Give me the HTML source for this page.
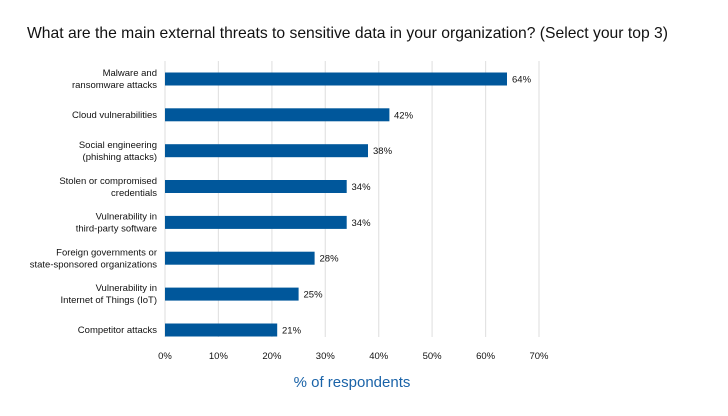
<!DOCTYPE html>
<html><head><style>
body{margin:0;background:#fff;font-family:"Liberation Sans",sans-serif;}
</style></head><body>
<svg width="728" height="411" xmlns="http://www.w3.org/2000/svg" font-family="Liberation Sans, sans-serif">
<rect width="728" height="411" fill="#fff"/>
<text x="27" y="38" font-size="15.8" fill="#111" textLength="641" lengthAdjust="spacingAndGlyphs">What are the main external threats to sensitive data in your organization? (Select your top 3)</text>
<g stroke="#e3e3e3" stroke-width="1.2">
<line x1="165" y1="61" x2="165" y2="337"/>
<line x1="218.4" y1="61" x2="218.4" y2="337"/>
<line x1="271.9" y1="61" x2="271.9" y2="337"/>
<line x1="325.3" y1="61" x2="325.3" y2="337"/>
<line x1="378.7" y1="61" x2="378.7" y2="337"/>
<line x1="432.1" y1="61" x2="432.1" y2="337"/>
<line x1="485.6" y1="61" x2="485.6" y2="337"/>
<line x1="539" y1="61" x2="539" y2="337"/>
</g>
<g fill="#00579b">
<rect x="165" y="72.5" width="342" height="13"/>
<rect x="165" y="108.3" width="224.4" height="13"/>
<rect x="165" y="144.2" width="203" height="13"/>
<rect x="165" y="180" width="181.7" height="13"/>
<rect x="165" y="215.9" width="181.7" height="13"/>
<rect x="165" y="251.7" width="149.6" height="13"/>
<rect x="165" y="287.6" width="133.6" height="13"/>
<rect x="165" y="323.5" width="112.2" height="13"/>
</g>
<g font-size="9.5" fill="#111">
<text x="512" y="82.5">64%</text>
<text x="394" y="118.3">42%</text>
<text x="373" y="154.2">38%</text>
<text x="351.5" y="190">34%</text>
<text x="351.5" y="225.9">34%</text>
<text x="319.5" y="261.7">28%</text>
<text x="303.5" y="297.6">25%</text>
<text x="282" y="333.5">21%</text>
</g>
<g font-size="9.5" fill="#111" text-anchor="end">
<text x="157" y="76">Malware and</text><text x="157" y="88">ransomware attacks</text>
<text x="157" y="118">Cloud vulnerabilities</text>
<text x="157" y="148">Social engineering</text><text x="157" y="160">(phishing attacks)</text>
<text x="157" y="184">Stolen or compromised</text><text x="157" y="196">credentials</text>
<text x="157" y="219.5">Vulnerability in</text><text x="157" y="231.5">third-party software</text>
<text x="157" y="255.5">Foreign governments or</text><text x="157" y="267.5">state-sponsored organizations</text>
<text x="157" y="291">Vulnerability in</text><text x="157" y="303">Internet of Things (IoT)</text>
<text x="157" y="333">Competitor attacks</text>
</g>
<g font-size="9.5" fill="#111" text-anchor="middle">
<text x="165" y="359">0%</text>
<text x="218.4" y="359">10%</text>
<text x="271.9" y="359">20%</text>
<text x="325.3" y="359">30%</text>
<text x="378.7" y="359">40%</text>
<text x="432.1" y="359">50%</text>
<text x="485.6" y="359">60%</text>
<text x="539" y="359">70%</text>
</g>
<text x="352" y="387" font-size="15" fill="#1a63a8" text-anchor="middle">% of respondents</text>
</svg>
</body></html>
